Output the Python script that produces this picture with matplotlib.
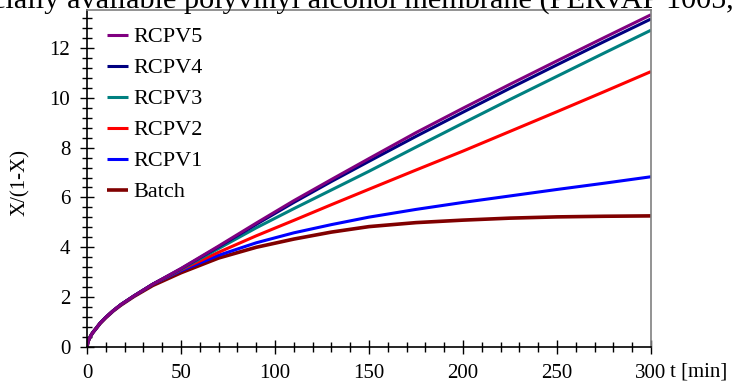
import matplotlib
matplotlib.use('Agg')
import matplotlib.pyplot as plt
from matplotlib.ticker import MultipleLocator

plt.rcParams['font.family'] = ['Liberation Serif', 'DejaVu Serif']

t = [0, 0.5, 1, 2, 3, 5, 7, 10, 14, 18, 25, 35, 50, 70, 90, 110, 130, 150, 175, 200, 225, 250, 275, 300]
early = [0, 0.2, 0.3, 0.45, 0.57, 0.76, 0.96, 1.19, 1.46, 1.7, 2.05, 2.52]

rcpv5 = early + [3.15, 4.05, 4.97, 5.87, 6.72, 7.56, 8.6, 9.58, 10.54, 11.48, 12.41, 13.33]
rcpv4 = early + [3.14, 4.02, 4.92, 5.8, 6.64, 7.45, 8.45, 9.42, 10.38, 11.32, 12.25, 13.16]
rcpv3 = early + [3.12, 3.95, 4.78, 5.55, 6.3, 7.05, 8.02, 8.98, 9.93, 10.86, 11.79, 12.71]
rcpv2 = early + [3.1, 3.8, 4.46, 5.08, 5.71, 6.33, 7.1, 7.86, 8.65, 9.44, 10.24, 11.05]
rcpv1 = early + [3.06, 3.68, 4.18, 4.58, 4.91, 5.21, 5.52, 5.8, 6.06, 6.32, 6.57, 6.83]
batch = [0, 0.2, 0.3, 0.45, 0.57, 0.76, 0.95, 1.18, 1.45, 1.68, 2.03, 2.47,
         2.98, 3.57, 4.0, 4.33, 4.61, 4.83, 4.99, 5.09, 5.17, 5.22, 5.245, 5.26]

labels = ['RCPV5', 'RCPV4', 'RCPV3', 'RCPV2', 'RCPV1', 'Batch']
colors = ['#800080', '#000080', '#008080', '#ff0000', '#0000ff', '#800000']

fig = plt.figure(figsize=(7.4, 3.87), dpi=100)
ax = fig.add_axes([87/740, 1 - 347/387, 564/740, 337/387])

series = [rcpv5, rcpv4, rcpv3, rcpv2, rcpv1, batch]
# draw batch first so the others sit on top, like the original
for vals, lab, col in reversed(list(zip(series, labels, colors))):
    lw = 2.6 if lab == 'Batch' else 2.2
    ax.plot(t, vals, color=col, lw=lw, label=lab, solid_capstyle='butt')

ax.set_xlim(0, 300)
ax.set_ylim(0, 13.52)
ax.xaxis.set_major_locator(MultipleLocator(50))
ax.xaxis.set_minor_locator(MultipleLocator(10))
ax.yaxis.set_major_locator(MultipleLocator(2))
ax.yaxis.set_minor_locator(MultipleLocator(0.4))
ax.tick_params(which='both', direction='inout', labelsize=15, width=1)
ax.tick_params(which='major', length=10)
ax.tick_params(which='minor', length=7)
ax.tick_params(axis='x', pad=7.5)
ax.tick_params(axis='y', pad=7)
ax.set_xticks([0, 50, 100, 150, 200, 250, 300])

for side in ['top', 'right']:
    ax.spines[side].set_color('#808080')
    ax.spines[side].set_linewidth(1.2)
for side in ['left', 'bottom']:
    ax.spines[side].set_linewidth(1.2)

handles, labs = ax.get_legend_handles_labels()
leg = ax.legend(handles[::-1], labs[::-1], loc='upper left', bbox_to_anchor=(0.028, 0.963),
                frameon=False, fontsize=16, handlelength=0.95, handletextpad=0.22,
                labelspacing=0.47, borderpad=0.2, borderaxespad=0)

fig.text(20/740, 1 - 183/387, 'X/(1-X)', rotation=90, ha='center', va='center', fontsize=15)
fig.text(670/740, 1 - 372/387, 't [min]', ha='left', va='center', fontsize=15)
fig.text(-8/740, 1 - 8/387, 'cially available polyvinyl alcohol membrane (PERVAP 1005, GFT)',
         ha='left', va='baseline', fontsize=21.8)

fig.savefig('out.png', dpi=100)
